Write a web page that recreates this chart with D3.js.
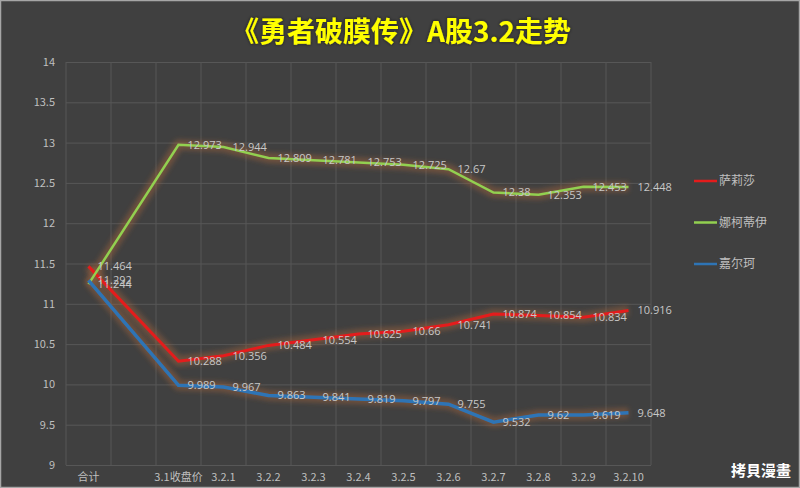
<!DOCTYPE html>
<html>
<head>
<meta charset="utf-8">
<script src="https://cdn.jsdelivr.net/npm/d3@7"></script>
<style>
    body { margin: 0; background: #404040; }
    svg { display: block; }
    .grid line { stroke: #575757; stroke-width: 1; }
    .grid path { display: none; }
    .axis path, .axis line { display: none; }
    .axis text { fill: #bfbfbf; font: 11px "Noto Sans CJK SC", "Open Sans", sans-serif; }
    .label { fill: #c8c8c8; font: 11px "Open Sans", "Noto Sans CJK SC", sans-serif; }
</style>
</head>
<body>
<svg id="chart"></svg>
<script>
let w = 800;
let h = 488;
let margin = { left: 66, right: 149, top: 62, bottom: 23 };

// categories (second one is empty in the original sheet)
const categories = ["合计", "", "3.1收盘价", "3.2.1", "3.2.2", "3.2.3", "3.2.4", "3.2.5", "3.2.6", "3.2.7", "3.2.8", "3.2.9", "3.2.10"];
const seriesNames = ["萨莉莎", "娜柯蒂伊", "嘉尔珂"];
const seriesColors = ["#e41c1c", "#92d050", "#2e74b5"];
const seriesWidths = [3, 2.5, 3.5];
const salisha = [11.464, null, 10.288, 10.356, 10.484, 10.554, 10.625, 10.66, 10.741, 10.874, 10.854, 10.834, 10.916];
const nakediyi = [11.244, null, 12.973, 12.944, 12.809, 12.781, 12.753, 12.725, 12.67, 12.38, 12.353, 12.453, 12.448];
const jiaerke = [11.292, null, 9.989, 9.967, 9.863, 9.841, 9.819, 9.797, 9.755, 9.532, 9.62, 9.619, 9.648];
const yTicks = [9, 9.5, 10, 10.5, 11, 11.5, 12, 12.5, 13, 13.5, 14];
const seriesValues = [salisha, nakediyi, jiaerke];

let svg = d3.select("#chart").attr("width", w).attr("height", h);

// background + frame
svg.append("rect").attr("width", w).attr("height", h).attr("fill", "#404040");
svg.append("rect").attr("x", 0.5).attr("y", 0.5).attr("width", w - 1).attr("height", h - 1)
    .attr("fill", "none").attr("stroke", "#a6a6a6").attr("stroke-width", 1.5);

let defs = svg.append("defs");
// soft brownish glow under lines
let glow = defs.append("filter").attr("id", "glow")
    .attr("x", "-10%").attr("y", "-30%").attr("width", "120%").attr("height", "160%");
glow.append("feGaussianBlur").attr("stdDeviation", 2.5);

let titleGlow = defs.append("filter").attr("id", "titleGlow")
    .attr("x", "-10%").attr("y", "-40%").attr("width", "120%").attr("height", "180%");
titleGlow.append("feGaussianBlur").attr("in", "SourceAlpha").attr("stdDeviation", 1.5).attr("result", "b");
titleGlow.append("feFlood").attr("flood-color", "#1a1a1a").attr("flood-opacity", 0.8);
titleGlow.append("feComposite").attr("in2", "b").attr("operator", "in");
let merge = titleGlow.append("feMerge");
merge.append("feMergeNode");
merge.append("feMergeNode").attr("in", "SourceGraphic");

let pw = w - margin.left - margin.right;
let ph = h - margin.top - margin.bottom;
let g = svg.append("g").attr("transform", "translate(" + margin.left + "," + margin.top + ")");

let xScale = d3.scaleBand().domain(d3.range(categories.length)).range([0, pw]);
let yScale = d3.scaleLinear().domain([9, 14]).range([ph, 0]);

// horizontal grid
g.append("g").attr("class", "grid")
    .call(d3.axisRight(yScale).tickValues(yTicks).tickFormat("").tickSize(pw));

// vertical grid at category boundaries
g.append("g").attr("class", "grid")
    .selectAll("line")
    .data(d3.range(categories.length + 1))
    .enter().append("line")
    .attr("x1", (d) => d * xScale.step())
    .attr("x2", (d) => d * xScale.step())
    .attr("y1", 0).attr("y2", ph);

// axes
g.append("g").attr("class", "y axis")
    .call(d3.axisLeft(yScale).tickValues(yTicks).tickSize(0).tickPadding(11).tickFormat(d3.format("")));

g.append("g").attr("class", "x axis")
    .attr("transform", "translate(0," + ph + ")")
    .call(d3.axisBottom(xScale).tickSize(0).tickPadding(8).tickFormat((i) => categories[i]));

let cx = (i) => xScale(i) + xScale.bandwidth() / 2;
let line = d3.line()
    .x((d) => cx(d.i))
    .y((d) => yScale(d.v));

let series = seriesValues.map((vals, k) => ({
    name: seriesNames[k],
    color: seriesColors[k],
    width: seriesWidths[k],
    values: vals.map((v, i) => ({ i: i, v: v })).filter((d) => d.v !== null)
}));

// glow layer
g.selectAll(".halo")
    .data(series)
    .enter().append("path")
    .attr("class", "halo")
    .attr("d", (d) => line(d.values))
    .attr("fill", "none")
    .attr("stroke", "#a8643a")
    .attr("stroke-opacity", 0.45)
    .attr("stroke-width", 10)
    .attr("stroke-linejoin", "round")
    .attr("filter", "url(#glow)");

g.selectAll(".line")
    .data(series)
    .enter().append("path")
    .attr("class", "line")
    .attr("d", (d) => line(d.values))
    .attr("fill", "none")
    .attr("stroke", (d) => d.color)
    .attr("stroke-width", (d) => d.width);

// data labels, right of each point
series.forEach((s) => {
    g.selectAll(null)
        .data(s.values)
        .enter().append("text")
        .attr("class", "label")
        .attr("x", (d) => cx(d.i) + 9)
        .attr("y", (d) => yScale(d.v))
        .attr("dy", "0.35em")
        .text((d) => d.v);
});

// legend
let legend = svg.append("g").attr("transform", "translate(694,181)");
let item = legend.selectAll("g")
    .data(series)
    .enter().append("g")
    .attr("transform", (d, i) => "translate(0," + i * 41.5 + ")");
item.append("line")
    .attr("x1", 0).attr("x2", 23)
    .attr("stroke", (d) => d.color)
    .attr("stroke-width", 2.5);
item.append("text")
    .attr("x", 25).attr("dy", "0.35em")
    .attr("fill", "#bfbfbf")
    .style("font", "12px 'Noto Sans CJK SC', sans-serif")
    .text((d) => d.name);

// title
svg.append("text")
    .attr("x", 401).attr("y", 42)
    .attr("text-anchor", "middle")
    .attr("fill", "#ffff00")
    .attr("filter", "url(#titleGlow)")
    .style("font", "bold 28px 'Noto Sans CJK SC', sans-serif")
    .text("《勇者破膜传》A股3.2走势");

// watermark
svg.append("text")
    .attr("x", 791).attr("y", 476)
    .attr("text-anchor", "end")
    .attr("fill", "#ffffff")
    .style("font", "bold 15px 'Noto Sans CJK TC', sans-serif")
    .text("拷貝漫畫");
</script>
</body>
</html>
